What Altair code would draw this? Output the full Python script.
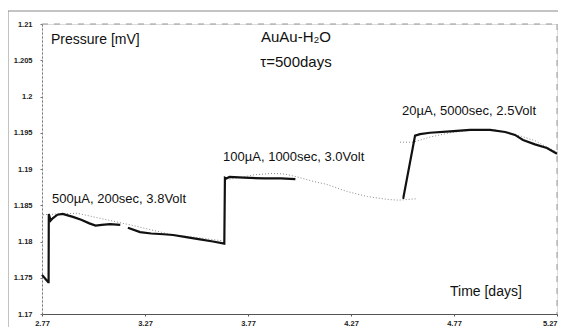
import altair as alt
import pandas as pd

# ---- measured (solid) curve, three connected pieces ----
meas_a_days = [2.770, 2.785, 2.800, 2.802, 2.803, 2.812, 2.822, 2.845, 2.870, 2.920,
               2.960, 3.000, 3.030, 3.060, 3.100, 3.150]
meas_a_mv = [1.1754, 1.1749, 1.1744, 1.1744, 1.1838, 1.1829, 1.1832, 1.1837, 1.1838, 1.1834,
             1.1830, 1.1825, 1.1822, 1.1823, 1.1824, 1.1823]

meas_b_days = [3.187, 3.246, 3.300, 3.360, 3.406, 3.470, 3.537, 3.600, 3.655, 3.658,
               3.665, 3.680, 3.750, 3.850, 3.930, 4.000]
meas_b_mv = [1.1819, 1.1813, 1.1811, 1.1810, 1.1809, 1.1806, 1.1803, 1.1800, 1.1797, 1.1888,
             1.1887, 1.1889, 1.1888, 1.1887, 1.1887, 1.1886]

meas_c_days = [4.520, 4.524, 4.581, 4.605, 4.653, 4.751, 4.848, 4.945, 5.018, 5.066,
               5.105, 5.163, 5.221, 5.270]
meas_c_mv = [1.1860, 1.1860, 1.1946, 1.1948, 1.1950, 1.1952, 1.1954, 1.1954, 1.1951, 1.1947,
             1.1940, 1.1934, 1.1929, 1.1921]

# ---- model (dotted) curve, three pieces ----
fit_a_days = [2.775, 2.857, 2.940, 3.052, 3.197, 3.406, 3.537, 3.644]
fit_a_mv = [1.1837, 1.1838, 1.1839, 1.1832, 1.1823, 1.1809, 1.1805, 1.1801]

fit_b_days = [3.680, 3.730, 3.800, 3.890, 3.950, 4.010, 4.100, 4.150, 4.250, 4.350,
              4.450, 4.500, 4.590]
fit_b_mv = [1.1886, 1.1888, 1.1892, 1.1894, 1.1893, 1.1889, 1.1882, 1.1879, 1.1869, 1.1862,
            1.1858, 1.1857, 1.1859]

fit_c_days = [4.508, 4.571, 4.653, 4.751, 4.872, 4.969, 5.066, 5.163, 5.270]
fit_c_mv = [1.1937, 1.1937, 1.1944, 1.1950, 1.1954, 1.1954, 1.1948, 1.1939, 1.1923]

# ---- annotations ----
note_texts = ["500\u00b5A, 200sec, 3.8Volt", "100\u00b5A, 1000sec, 3.0Volt", "20\u00b5A, 5000sec, 2.5Volt"]
note_days = [2.819, 3.649, 4.518]
note_mv = [1.1858, 1.1916, 1.1980]

x_ticks = [2.77, 3.27, 3.77, 4.27, 4.77, 5.27]
y_ticks = [1.17, 1.175, 1.18, 1.185, 1.19, 1.195, 1.2, 1.205, 1.21]


def frame(days, mv, seg):
    return pd.DataFrame({"days": days, "mv": mv, "seg": seg, "i": range(len(days))})


measured = pd.concat([
    frame(meas_a_days, meas_a_mv, "a"),
    frame(meas_b_days, meas_b_mv, "b"),
    frame(meas_c_days, meas_c_mv, "c"),
])
fitted = pd.concat([
    frame(fit_a_days, fit_a_mv, "a"),
    frame(fit_b_days, fit_b_mv, "b"),
    frame(fit_c_days, fit_c_mv, "c"),
])
notes = pd.DataFrame({"days": note_days, "mv": note_mv, "t": note_texts})

W, H = 515, 290
RIGHT_PAD = 1
FONT = "Liberation Sans"

xs = alt.Scale(domain=[2.77, 5.27], nice=False, zero=False)
ys = alt.Scale(domain=[1.17, 1.21], nice=False, zero=False)

x_axis = alt.Axis(values=x_ticks, format=".2f", title=None, grid=False,
                  domainColor="#555", domainWidth=1, tickColor="#555", tickSize=2,
                  labelFont=FONT, labelFontSize=7.5, labelFontWeight="bold",
                  labelColor="#222", labelPadding=3, labelFlush=False,
                  labelOverlap=False, labelBound=False,
                  labelAlign={"condition": {"test": "datum.value > 5.2", "value": "right"},
                              "value": "center"})
y_axis = alt.Axis(values=y_ticks, format=".3~f", title=None, grid=False,
                  domainColor="#777", domainDash=[2, 2], domainWidth=1,
                  tickColor="#777", tickSize=2,
                  labelFont=FONT, labelFontSize=7.5, labelFontWeight="bold",
                  labelColor="#222", labelPadding=8, labelFlush=False,
                  labelOverlap=False, labelBound=False)

X = alt.X("days:Q", scale=xs, axis=x_axis)
Y = alt.Y("mv:Q", scale=ys, axis=y_axis)

fit_layer = alt.Chart(fitted).mark_line(color="#8a8a8a", strokeWidth=1, strokeDash=[1, 2]).encode(
    x=X, y=Y, detail="seg:N", order="i:Q",
)

meas_layer = alt.Chart(measured).mark_line(color="#111", strokeWidth=2.2).encode(
    x=X, y=Y, detail="seg:N", order="i:Q",
)

note_layer = alt.Chart(notes).mark_text(align="left", baseline="middle", font=FONT,
                                         fontSize=13, color="#111").encode(
    x=X, y=Y, text="t:N",
)

dummy = pd.DataFrame({"k": [0]})


def label(txt, x, y, align, size):
    return alt.Chart(dummy).mark_text(text=txt, align=align, baseline="middle", font=FONT,
                                      fontSize=size, color="#111").encode(
        x=alt.value(x), y=alt.value(y))


def rule(x, y, x2=None, y2=None, dash=None, color="#888"):
    kw = dict(color=color, strokeWidth=1)
    if dash:
        kw["strokeDash"] = dash
    enc = dict(x=alt.value(x), y=alt.value(y))
    if x2 is not None:
        enc["x2"] = alt.value(x2)
    if y2 is not None:
        enc["y2"] = alt.value(y2)
    return alt.Chart(dummy).mark_rule(**kw).encode(**enc)


layers = [
    rule(0, 0, x2=W, dash=[6, 6], color="#999"),      # top dashed border
    rule(W, 0, y2=H, dash=[6, 6], color="#999"),      # right dashed border
    rule(-34, -13, x2=W + RIGHT_PAD, color="#888"),   # outer frame top
    rule(-34, -13, y2=H + 13, color="#888"),          # outer frame left
    fit_layer,
    meas_layer,
    note_layer,
    label("Pressure [mV]", 9, 16, "left", 14),
    label("Time [days]", 408, 268, "left", 14),
    label("AuAu-H\u2082O", 254, 13, "center", 15),
    label("\u03c4=500days", 254, 38, "center", 15),
]

chart = alt.layer(*layers).properties(
    width=W, height=H,
    autosize=alt.AutoSizeParams(type="none"),
    padding={"left": 34, "top": 16, "right": RIGHT_PAD, "bottom": 13},
).configure_view(stroke=None).configure(background="white")

chart.save("out.html", embed_options={"renderer": "svg", "actions": False})
